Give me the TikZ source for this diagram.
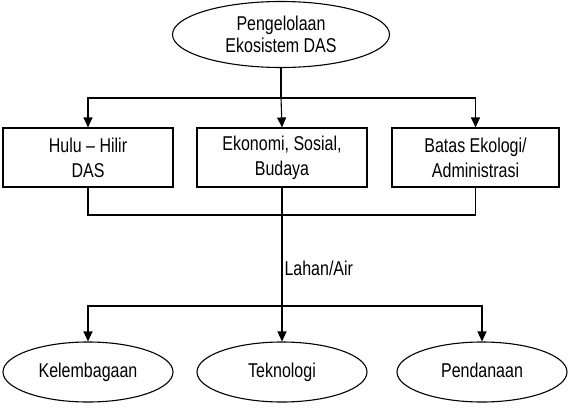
\documentclass[tikz,border=0pt]{standalone}
\usepackage{fontspec}
\setmainfont{Liberation Sans}[FakeStretch=0.8]
\usetikzlibrary{shapes.geometric,arrows.meta}
\begin{document}
\begin{tikzpicture}[x=1pt,y=-1pt,
  line width=1.1pt,
  txt/.style={font=\fontsize{20}{22}\selectfont, align=center},
  oval/.style={draw, ellipse, txt, inner sep=0pt, minimum width=170pt, minimum height=60pt},
  leaf/.style={oval, text height=14.3pt, text depth=4pt},
  box/.style={draw, rectangle, txt, font=\fontsize{20}{25}\selectfont, inner sep=0pt, minimum width=170pt, minimum height=59pt},
  arr/.style={-{Triangle[length=10pt,width=9pt]}}]
\useasboundingbox (0,0) rectangle (569,412);
\node[oval, minimum width=217pt, minimum height=66pt] (top) at (281,34.5) {Pengelolaan\\Ekosistem DAS};
\node[box] (b1) at (88,157.5) {Hulu -- Hilir\\DAS};
\node[box] (b2) at (282,157.5) {Ekonomi, Sosial,\\Budaya};
\node[box, minimum width=167pt] (b3) at (475.5,157.5) {Batas Ekologi/\\Administrasi};
\node[leaf] (e1) at (88,372) {Kelembagaan};
\node[leaf] (e2) at (282,372) {Teknologi};
\node[leaf] (e3) at (482,372) {Pendanaan};
\coordinate (tj) at (281,98);
\coordinate (bj) at (281,215);
\coordinate (lj) at (281,306);
\draw (top.south) -- (tj);
\draw[arr] (tj) -| (b1.north);
\draw[arr] (tj) -- (b2.north);
\draw[arr] (tj) -| (b3.north);
\draw (b1.south) |- (bj) -| (b3.south);
\draw[arr] (b2.south) -- (e2.north);
\draw[arr] (lj) -| (e1.north);
\draw[arr] (lj) -| (e3.north);
\node[txt, anchor=west, inner sep=0pt] (lab) at (284,268) {Lahan/Air};
\end{tikzpicture}
\end{document}
